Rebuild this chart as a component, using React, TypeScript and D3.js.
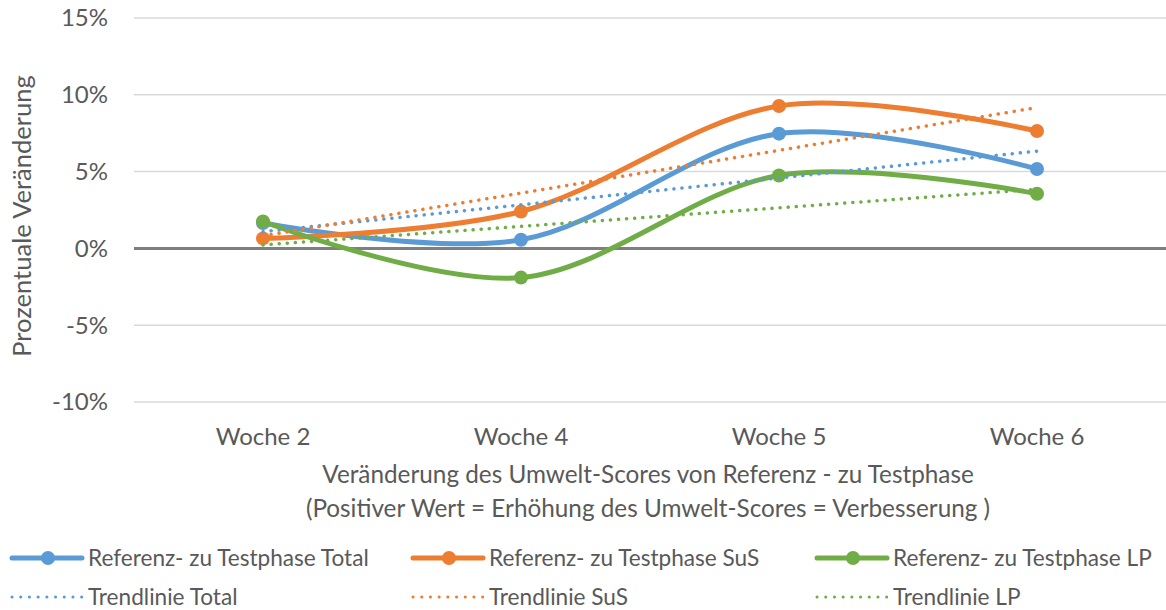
import * as d3 from "d3";

const weeks = ["Woche 2", "Woche 4", "Woche 5", "Woche 6"];
const total = [1.65, 0.56, 7.47, 5.17];
const sus = [0.65, 2.4, 9.27, 7.64];
const lp = [1.75, -1.9, 4.75, 3.56];
const yTicks = [-10, -5, 0, 5, 10, 15];

const seriesNames = ["Referenz- zu Testphase Total", "Referenz- zu Testphase SuS", "Referenz- zu Testphase LP"];
const trendNames = ["Trendlinie Total", "Trendlinie SuS", "Trendlinie LP"];
const colors = ["#5B9BD5", "#ED7D31", "#70AD47"];

const W = 1166;
const H = 610;
const FONT = "Lato, 'Open Sans', sans-serif";
const TEXT = "#595959";

// Excel-style linear trendline over category index 1..n
function trend(values: number[]) {
  const xs = values.map((_, i) => i + 1);
  const mx = d3.mean(xs)!;
  const my = d3.mean(values)!;
  const slope = d3.sum(xs, (x, i) => (x - mx) * (values[i] - my)) / d3.sum(xs, x => (x - mx) ** 2);
  return xs.map(x => my + slope * (x - mx));
}

export default function App() {
  const x = d3.scalePoint<string>().domain(weeks).range([134, 1166]).padding(0.5);
  const y = d3.scaleLinear().domain([-10, 15]).range([402, 18]);

  const data = [total, sus, lp];

  const smooth = d3.line<number>()
    .x((_, i) => x(weeks[i])!)
    .y(d => y(d))
    .curve(d3.curveCardinal.tension(0));
  const straight = d3.line<number>()
    .x((_, i) => x(weeks[i])!)
    .y(d => y(d));

  const cols = [12, 413, 817];

  return (
    <div style={{ position: "fixed", left: 0, top: 0 }}>
      <svg width={W} height={H} style={{ display: "block", background: "#fff" }} fontFamily={FONT}>
        {/* grid */}
        {yTicks.map(t => (
          <line key={t} x1={134} x2={1166} y1={y(t)} y2={y(t)}
            stroke={t === 0 ? "#7f7f7f" : "#d9d9d9"} strokeWidth={t === 0 ? 3 : 1.5} />
        ))}
        {yTicks.map(t => (
          <text key={"l" + t} x={108} y={y(t)} dy="0.35em" textAnchor="end" fontSize={24} fill={TEXT}>
            {t + "%"}
          </text>
        ))}
        {weeks.map(w => (
          <text key={w} x={x(w)} y={437} dy="0.35em" textAnchor="middle" fontSize={24} fill={TEXT}>{w}</text>
        ))}
        <text transform={`translate(22,216) rotate(-90)`} dy="0.35em" textAnchor="middle" fontSize={25.5} fill={TEXT}>
          Prozentuale Veränderung
        </text>
        <text x={648} y={474} dy="0.35em" textAnchor="middle" fontSize={24.3} fill={TEXT}>
          Veränderung des Umwelt-Scores von Referenz - zu Testphase
        </text>
        <text x={648} y={508} dy="0.35em" textAnchor="middle" fontSize={24.3} fill={TEXT}>
          (Positiver Wert = Erhöhung des Umwelt-Scores = Verbesserung )
        </text>

        {/* series */}
        {data.map((vals, s) => (
          <g key={"s" + s}>
            <path d={smooth(vals)!} fill="none" stroke={colors[s]} strokeWidth={5} strokeLinecap="round" />
            {vals.map((v, i) => (
              <circle key={i} cx={x(weeks[i])} cy={y(v)} r={7} fill={colors[s]} />
            ))}
          </g>
        ))}

        {/* trendlines */}
        {data.map((vals, s) => (
          <path key={"t" + s} d={straight(trend(vals))!} fill="none" stroke={colors[s]}
            strokeWidth={3.5} strokeLinecap="round" strokeDasharray="0.1 8" />
        ))}

        {/* legend */}
        {colors.map((c, s) => (
          <g key={"lg" + s}>
            <line x1={cols[s]} x2={cols[s] + 70} y1={558} y2={558} stroke={c} strokeWidth={5} strokeLinecap="round" />
            <circle cx={cols[s] + 36} cy={558} r={7} fill={c} />
            <text x={cols[s] + 76} y={558} dy="0.35em" fontSize={22.6} fill={TEXT}>{seriesNames[s]}</text>
            <line x1={cols[s]} x2={cols[s] + 70} y1={597} y2={597} stroke={c} strokeWidth={3}
              strokeLinecap="round" strokeDasharray="0.1 8.6" />
            <text x={cols[s] + 76} y={597} dy="0.35em" fontSize={22.6} fill={TEXT}>{trendNames[s]}</text>
          </g>
        ))}
      </svg>
    </div>
  );
}
